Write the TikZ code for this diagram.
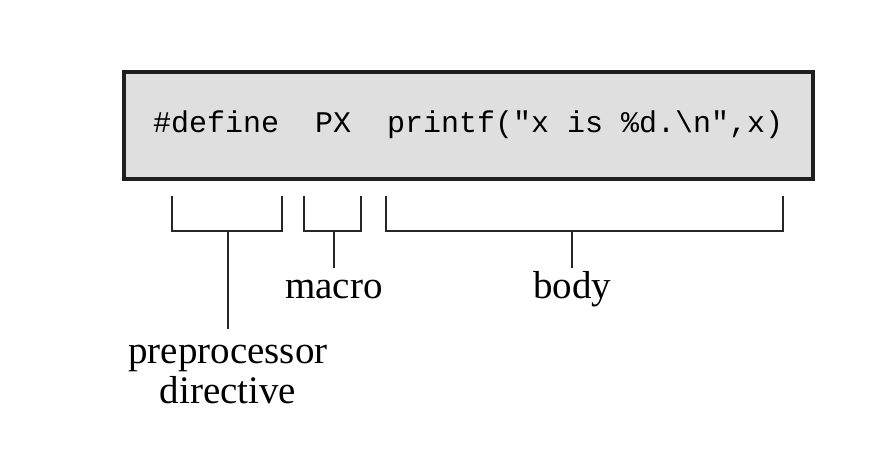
\documentclass[tikz,border=0pt]{standalone}
\usepackage{fontspec}
\setmainfont{Liberation Serif}
\setmonofont{Liberation Mono}
\begin{document}
\begin{tikzpicture}[x=1pt,y=-1pt,
  codebox/.style={draw=black!88,line width=3.5pt,fill=gray!25,inner sep=0pt,
    minimum width=689pt,minimum height=107pt},
  codetext/.style={font=\ttfamily\fontsize{30}{30}\selectfont,anchor=base west,inner sep=0pt},
  brace/.style={draw=black!85,line width=2pt},
  lbl/.style={font=\fontsize{39}{40}\selectfont,anchor=base,inner sep=0pt,align=center}]
\useasboundingbox (0,0) rectangle (884,455);
\node[codebox] (box) at (468.5,125.5) {};
\node[codetext] (code) at (153,132) {\#define\ \ PX\ \ printf("x is \%d.\textbackslash n",x)};
% brackets
\coordinate (p1) at (172,196); \coordinate (p2) at (282,196);
\coordinate (pm) at (228,231); \coordinate (pe) at (228,329);
\coordinate (m1) at (304,196); \coordinate (m2) at (361,196);
\coordinate (mm) at (334,231); \coordinate (me) at (334,268);
\coordinate (b1) at (386,196); \coordinate (b2) at (783,196);
\coordinate (bm) at (572,231); \coordinate (be) at (572,268);
\draw[brace] (p1) |- (pm) -| (p2);
\draw[brace] (pm) -- (pe);
\draw[brace] (m1) |- (mm) -| (m2);
\draw[brace] (mm) -- (me);
\draw[brace] (b1) |- (bm) -| (b2);
\draw[brace] (bm) -- (be);
\node[lbl] (macro) at (334,298) {macro};
\node[lbl] (body) at (572,298) {body};
\node[lbl,anchor=north] (pre) at (228,345) {preprocessor\\directive};
\end{tikzpicture}
\end{document}
